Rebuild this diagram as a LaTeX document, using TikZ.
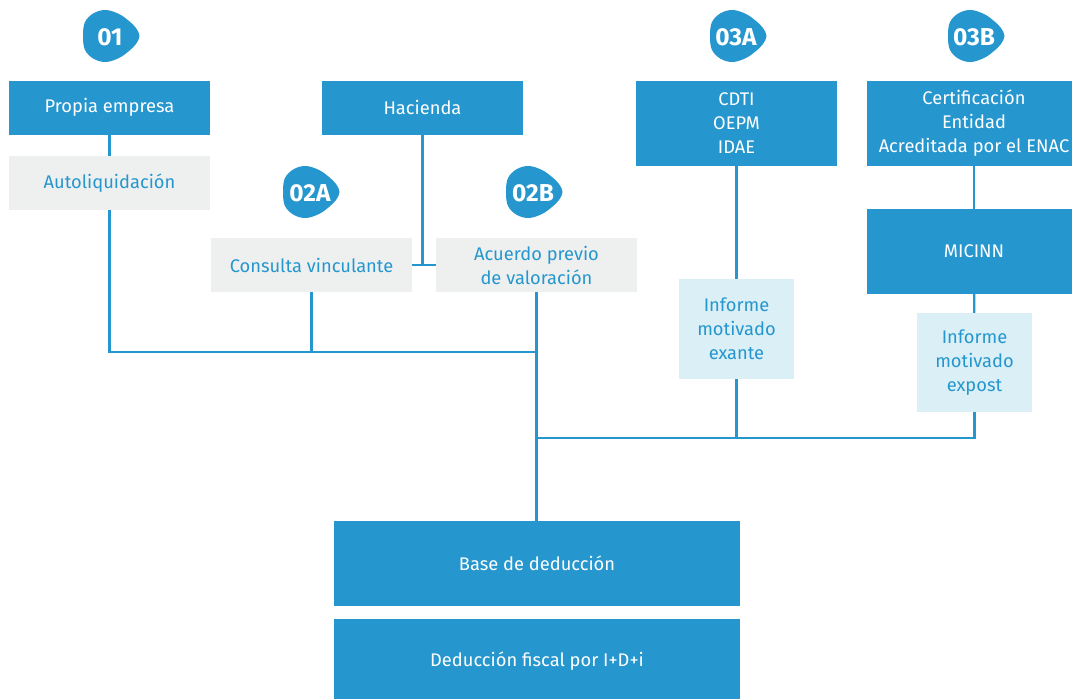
\documentclass[tikz,border=0pt]{standalone}
\usepackage{fontspec}
\setmainfont{Fira Sans}
\definecolor{mblue}{HTML}{2596CE}
\definecolor{mgray}{HTML}{EEF0EF}
\definecolor{mlight}{HTML}{DAEFF6}
\begin{document}
\begin{tikzpicture}[x=1pt,y=-1pt,
  base/.style={inner sep=0pt, align=center, font=\fontsize{18.3}{24}\selectfont},
  bluebox/.style={base, fill=mblue, text=white},
  graybox/.style={base, fill=mgray, text=mblue},
  lightbox/.style={base, fill=mlight, text=mblue},
  conn/.style={draw=mblue, line width=2.4pt},
  badgetext/.style={text=white, font=\fontsize{24.5}{24.5}\selectfont\bfseries, inner sep=0pt},
  badgeshape/.style={fill=mblue}
]
\useasboundingbox (0,0) rectangle (1072,699);
% badges
\foreach \cx/\cy in {111/36, 311/192, 534/192, 738/36, 976/36}{
  \fill[badgeshape, shift={(\cx,\cy)}] plot[smooth cycle, tension=0.6] coordinates
   {(-28,0) (-26,-14) (-17,-23) (-5,-26) (8,-22) (18,-15) (25,-8) (28.5,0) (25,8) (18,15) (8,22) (-5,26) (-17,23) (-26,14)};
}
\node[badgetext] (b01) at (110,37) {01};
\node[badgetext] (b02a) at (310,193) {02A};
\node[badgetext] (b02b) at (533,193) {02B};
\node[badgetext] (b03a) at (736,37) {03A};
\node[badgetext] (b03b) at (974,37) {03B};
% boxes
\node[bluebox, minimum width=201pt, minimum height=54pt] (pe) at (109.5,107.5) {Propia empresa};
\node[graybox, minimum width=201pt, minimum height=54pt] (al) at (109.5,183) {Autoliquidación};
\node[bluebox, minimum width=201pt, minimum height=54pt] (hac) at (422.5,107.5) {Hacienda};
\node[graybox, minimum width=201pt, minimum height=54pt] (cv) at (311.5,265) {Consulta vinculante};
\node[graybox, minimum width=201pt, minimum height=54pt] (ap) at (536.5,265) {Acuerdo previo\\de valoración};
\node[bluebox, minimum width=201pt, minimum height=85pt] (cdti) at (736.5,123.5) {CDTI\\OEPM\\IDAE};
\node[bluebox, minimum width=214pt, minimum height=85pt] (cert) at (974,123.5) {Certificación\\Entidad\\Acreditada por el ENAC};
\node[bluebox, minimum width=214pt, minimum height=85pt] (mic) at (974,251.5) {MICINN};
\node[lightbox, minimum width=115pt, minimum height=100pt] (ex) at (736.5,329) {Informe\\motivado\\exante};
\node[lightbox, minimum width=115pt, minimum height=99pt] (ep) at (974.5,362.5) {Informe\\motivado\\expost};
\node[bluebox, minimum width=406pt, minimum height=85pt] (bd) at (537,563.5) {Base de deducción};
\node[bluebox, minimum width=406pt, minimum height=85pt] (df) at (537,661.5) {Deducción fiscal por I+D+i};
% junctions
\coordinate (h1) at (537,352);
\coordinate (h2) at (537,438);
\coordinate (t1) at (hac.south |- cv.east);
% connectors
\draw[conn] (pe) -- (al);
\draw[conn] (al.south) |- (h1);
\draw[conn] (cv.south) -- (cv.south |- h1);
\draw[conn] (hac) -- (t1);
\draw[conn] (cv.east) -- (ap.west);
\draw[conn] (ap.south) -- (ap.south |- bd.north);
\draw[conn] (cdti) -- (ex);
\draw[conn] (ex.south) |- (h2);
\draw[conn] (cert) -- (mic);
\draw[conn] (mic) -- (ep);
\draw[conn] (ep.south) |- (h2);
\end{tikzpicture}
\end{document}
